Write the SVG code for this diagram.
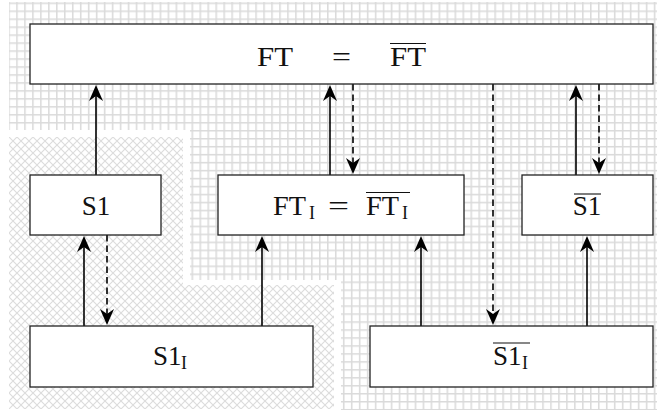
<svg xmlns="http://www.w3.org/2000/svg" width="665" height="412" viewBox="0 0 665 412">
<style>
.box{fill:#fff;stroke:#222;stroke-width:1.3}
.t{font-family:"Liberation Serif","Times New Roman",serif;font-size:27px;fill:#111}
.s{font-size:18px}
.ov{stroke:#111;stroke-width:1.1}
.c{fill:none;stroke:#000;stroke-width:1.6}
.d{stroke-dasharray:6.5 4}
.up{marker-end:url(#ah)}
</style>
<defs>
<pattern id="grid" patternUnits="userSpaceOnUse" x="8.2" y="2.5" width="7.97" height="7.97">
<rect width="7.97" height="7.97" fill="#fff"/>
<path d="M0.8,0V7.97M0,0.8H7.97" stroke="#dadada" stroke-width="1.5"/>
</pattern>
<pattern id="hatch" patternUnits="userSpaceOnUse" x="9" y="137" width="8" height="8">
<rect width="8" height="8" fill="#fff"/>
<path d="M0,0L8,8M8,0L0,8" stroke="#dcdcdc" stroke-width="1.1"/>
</pattern>
<marker id="ah" markerUnits="userSpaceOnUse" viewBox="-7 -8 19 16" refX="0" refY="0" markerWidth="19" markerHeight="16" orient="auto" overflow="visible">
<path d="M10,0L-6,-7L-1,0L-6,7Z" fill="#000"/>
</marker>
</defs>
<g id="background">
<polygon points="9,2 657,2 657,410 341,410 341,280 190,280 190,130 9,130" fill="url(#grid)"/>
<polygon points="9,137 183,137 183,285 334,285 334,409 9,409" fill="url(#hatch)"/>
</g>
<g id="connectors">
<line class="c up" x1="96" y1="175" x2="96" y2="95"/>
<line class="c up" x1="330" y1="175" x2="330" y2="95"/>
<line class="c d up" x1="353" y1="84" x2="353" y2="164"/>
<line class="c d up" x1="493" y1="84" x2="493" y2="315"/>
<line class="c up" x1="576" y1="175" x2="576" y2="95"/>
<line class="c d up" x1="599" y1="84" x2="599" y2="164"/>
<line class="c up" x1="84" y1="326" x2="84" y2="246"/>
<line class="c d up" x1="107" y1="235" x2="107" y2="315"/>
<line class="c up" x1="262" y1="326" x2="262" y2="246"/>
<line class="c up" x1="421" y1="326" x2="421" y2="246"/>
<line class="c up" x1="587" y1="326" x2="587" y2="246"/>
</g>
<g id="FT">
<rect class="box" x="30" y="24" width="623" height="60"/>
<text class="t" x="257" y="66" textLength="36" lengthAdjust="spacingAndGlyphs">FT</text>
<text class="t" x="332" y="66" textLength="19" lengthAdjust="spacingAndGlyphs">=</text>
<text class="t" x="390" y="66" textLength="36" lengthAdjust="spacingAndGlyphs">FT</text>
<line class="ov" x1="390" y1="43.5" x2="426" y2="43.5"/>
</g>
<g id="S1">
<rect class="box" x="30" y="175" width="131" height="60"/>
<text class="t" x="96" y="215" text-anchor="middle">S1</text>
</g>
<g id="FTI">
<rect class="box" x="218" y="175" width="246" height="60"/>
<text class="t" x="273" y="215" textLength="33" lengthAdjust="spacingAndGlyphs">FT</text>
<text class="t s" x="309" y="219">I</text>
<text class="t" x="328" y="215" textLength="21" lengthAdjust="spacingAndGlyphs">=</text>
<text class="t" x="366" y="215" textLength="33" lengthAdjust="spacingAndGlyphs">FT</text>
<text class="t s" x="402" y="219">I</text>
<line class="ov" x1="366" y1="192.5" x2="410" y2="192.5"/>
</g>
<g id="S1bar">
<rect class="box" x="522" y="175" width="131" height="60"/>
<text class="t" x="587" y="215" text-anchor="middle">S1</text>
<line class="ov" x1="574" y1="194" x2="601" y2="194"/>
</g>
<g id="S1I">
<rect class="box" x="30" y="326" width="283" height="61"/>
<text class="t" x="153" y="365">S1</text>
<text class="t s" x="181" y="369">I</text>
</g>
<g id="S1barI">
<rect class="box" x="370" y="326" width="283" height="61"/>
<text class="t" x="493" y="365">S1</text>
<text class="t s" x="522" y="369">I</text>
<line class="ov" x1="493" y1="343" x2="530" y2="343"/>
</g>
</svg>
